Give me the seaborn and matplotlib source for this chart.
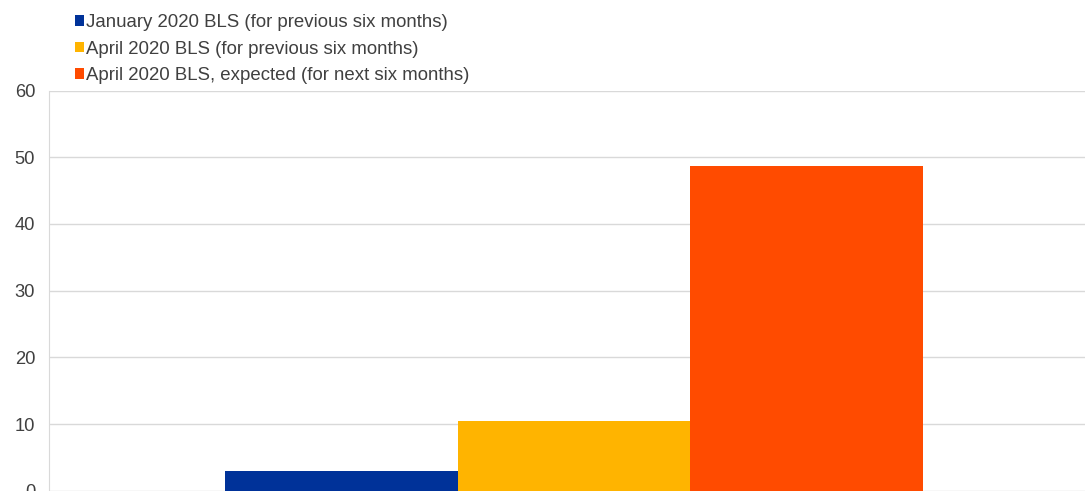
import matplotlib
matplotlib.use("Agg")
import matplotlib.pyplot as plt
import seaborn as sns
import pandas as pd

series = ["January 2020 BLS (for previous six months)",
          "April 2020 BLS (for previous six months)",
          "April 2020 BLS, expected (for next six months)"]
values = [3.0, 10.5, 48.7]
colors = ["#003299", "#FFB400", "#FF4B00"]
yticks = [0, 10, 20, 30, 40, 50, 60]

df = pd.DataFrame({"cat": ["x"] * 3, "series": series, "value": values})

sns.set_style("white")
plt.rcParams['font.family'] = ['Liberation Sans', 'DejaVu Sans']

fig = plt.figure(figsize=(10.85, 4.91), dpi=100)
ax = fig.add_axes([49 / 1085, 0.0006, 1 - 49 / 1085, 0.815])

gw = 0.674
sns.barplot(data=df, x="cat", y="value", hue="series", palette=colors,
            width=gw, saturation=1, ax=ax, linewidth=0)

span = 1036 / 698 * gw
off = 7 / 698 * gw
ax.set_xlim(-span / 2 - off, span / 2 - off)
ax.set_ylim(0, 60)
ax.set_yticks(yticks)
ax.set_xticks([])
ax.set_xlabel("")
ax.set_ylabel("")
ax.grid(axis="y", color="#d9d9d9", linewidth=1)
ax.set_axisbelow(True)
for s in ["top", "right", "bottom"]:
    ax.spines[s].set_visible(False)
ax.spines["left"].set_color("#d9d9d9")
ax.tick_params(axis="y", length=0, labelsize=13.2, labelcolor="#404040", pad=10)

handles, labels = ax.get_legend_handles_labels()
ax.legend_.remove()
fig.legend(handles, labels, loc="upper left", bbox_to_anchor=(62 / 1085, 1 - 1 / 491),
           frameon=False, fontsize=13.4, handlelength=0.5, handleheight=0.5,
           handletextpad=0.1, labelspacing=0.52, borderaxespad=0.3,
           labelcolor="#404040")

fig.savefig("out.png", dpi=100)
